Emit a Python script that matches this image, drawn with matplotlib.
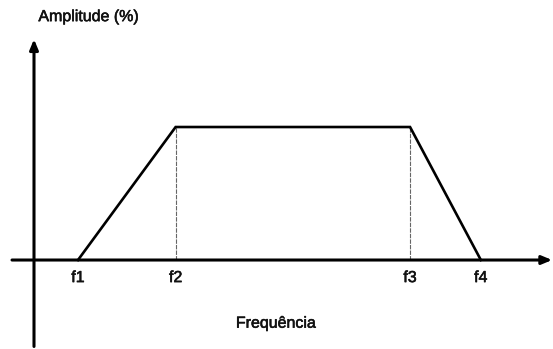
import matplotlib
matplotlib.use("Agg")
import matplotlib.pyplot as plt
import matplotlib.patheffects as pe

# Corner frequencies of the trapezoidal response and their amplitudes (%)
freq = [1.0, 3.22, 8.55, 10.16]
amplitude = [0, 100, 100, 0]
freq_labels = ["f1", "f2", "f3", "f4"]

plt.rcParams["font.family"] = ["Liberation Sans", "DejaVu Sans"]

fig = plt.figure(figsize=(5.53, 3.49), dpi=100)
ax = fig.add_axes([0, 0, 1, 1])
ax.set_xlim(-0.773, 11.8)
ax.set_ylim(-66.9, 195.5)
ax.axis("off")

# Coordinate axes with arrow heads
arrow = dict(arrowstyle="-|>,head_length=0.6,head_width=0.25", lw=2.2, color="black",
             shrinkA=0, shrinkB=0)
ax.annotate("", xy=(11.78, 0), xytext=(-0.5, 0), arrowprops=arrow)
ax.annotate("", xy=(0, 166), xytext=(0, -65), arrowprops=arrow)

# Response curve
ax.plot(freq, amplitude, color="black", lw=1.9, solid_joinstyle="miter", zorder=3)

# Dotted guides at the passband edges
for f, a in zip(freq, amplitude):
    if a > 0:
        ax.plot([f, f], [0, a], color="#666666", lw=0.8, ls=(0, (4, 1)), zorder=2)

txt = dict(fontsize=11.5, color="#111111",
           path_effects=[pe.withStroke(linewidth=0.4, foreground="#111111")])
for f, lab in zip(freq, freq_labels):
    ax.text(f, -13.2, lab, ha="center", va="center", **txt)

ax.text(0.1, 183, "Amplitude (%)", ha="left", va="center", **txt)
ax.text(5.5, -47.5, "Frequência", ha="center", va="center", **txt)

fig.savefig("out.png", dpi=100)
